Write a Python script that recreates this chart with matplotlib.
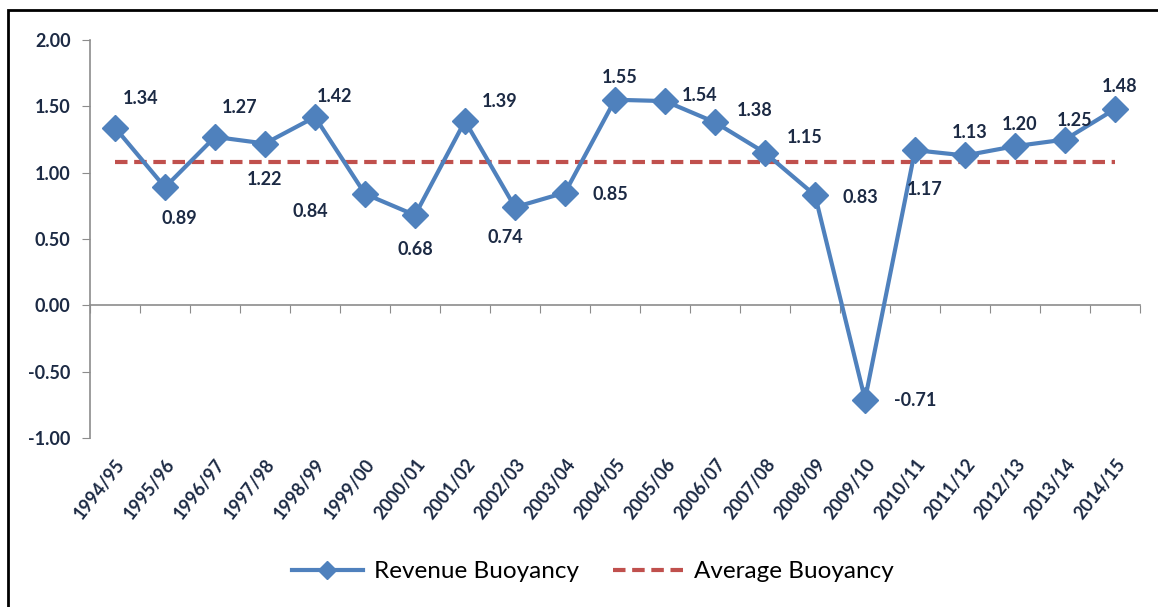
import matplotlib.pyplot as plt
from matplotlib.patches import Rectangle

years = ['1994/95', '1995/96', '1996/97', '1997/98', '1998/99', '1999/00',
         '2000/01', '2001/02', '2002/03', '2003/04', '2004/05', '2005/06',
         '2006/07', '2007/08', '2008/09', '2009/10', '2010/11', '2011/12',
         '2012/13', '2013/14', '2014/15']
revenue = [1.34, 0.89, 1.27, 1.22, 1.42, 0.84, 0.68, 1.39, 0.74, 0.85, 1.55,
           1.54, 1.38, 1.15, 0.83, -0.71, 1.17, 1.13, 1.20, 1.25, 1.48]
average = [1.08] * len(years)

# label offsets in pixels (dx, dy) relative to each point
offsets = [(26, 29), (14, -31), (25, 29), (0, -36), (20, 20), (-55, -18),
           (0, -34), (35, 19), (-10, -30), (45, -2), (5, 22), (35, 6),
           (40, 12), (40, 15), (45, -2), (50, -1), (10, -39), (5, 23),
           (5, 22), (10, 19), (5, 23)]

navy = '#1c2a44'
gray = '#8c8c8c'
blue = '#4f81bd'
red = '#c0504d'

plt.rcParams['font.family'] = ['Lato', 'DejaVu Sans']

fig = plt.figure(figsize=(11.58, 6.07), dpi=100)
ax = fig.add_axes([0.0777, 0.2784, 0.9068, 0.6556])

x = list(range(len(years)))
ax.plot(x, revenue, color=blue, linewidth=3, marker='D', markersize=13,
        label='Revenue Buoyancy', zorder=3)
ax.plot(x, average, color=red, linewidth=3, linestyle=(0, (3, 1.6)),
        label='Average Buoyancy', zorder=2)

for xi, v, (dx, dy) in zip(x, revenue, offsets):
    ax.annotate(f'{v:.2f}', (xi, v), xytext=(dx, dy), textcoords='offset pixels',
                ha='center', va='center', fontsize=13, fontweight='bold',
                color=navy)

ax.set_xlim(-0.5, len(years) - 0.5)
ax.set_ylim(-1, 2)
ax.set_yticks([-1, -0.5, 0, 0.5, 1, 1.5, 2])
ax.set_yticklabels([f'{t:.2f}' for t in [-1, -0.5, 0, 0.5, 1, 1.5, 2]],
                   fontsize=13, fontweight='bold', color=navy)
ax.tick_params(axis='y', direction='out', length=6, color=gray, pad=8)

# category boundary ticks on the zero line
ax.spines['bottom'].set_position(('data', 0))
ax.set_xticks([i - 0.5 for i in range(len(years) + 1)])
ax.set_xticklabels([])
ax.tick_params(axis='x', direction='out', length=6, color=gray)
for s in ['top', 'right']:
    ax.spines[s].set_visible(False)
for s in ['left', 'bottom']:
    ax.spines[s].set_color(gray)
    ax.spines[s].set_linewidth(1.2)

sec = ax.secondary_xaxis('bottom')
sec.set_xticks(x)
sec.set_xticklabels(years, rotation=52, ha='right', rotation_mode='anchor',
                    fontsize=13, fontweight='bold', color=navy)
sec.tick_params(length=0, pad=13)
sec.spines['bottom'].set_visible(False)

leg = fig.legend(loc='center', bbox_to_anchor=(0.512, 0.058), ncol=2,
                 frameon=False, fontsize=17.5, handlelength=2.9,
                 handletextpad=0.45, columnspacing=1.4)
leg.legend_handles[0].set_markersize(9)

fig.add_artist(Rectangle((8 / 1158, -0.1), 1.2, 1.1 - 10 / 607,
                         transform=fig.transFigure, fill=False,
                         edgecolor='black', linewidth=2))

fig.savefig('out.png', dpi=100)
